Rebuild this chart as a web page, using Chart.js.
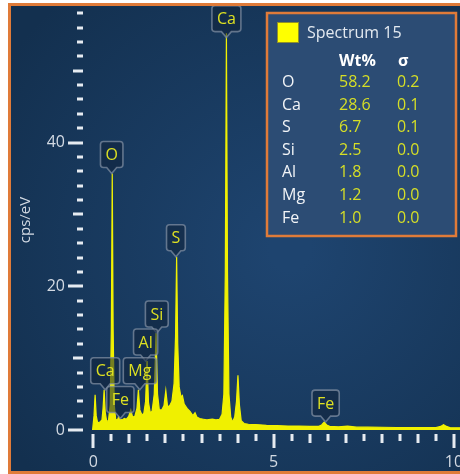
<!DOCTYPE html>
<html>
<head>
<meta charset="utf-8">
<script src="https://cdn.jsdelivr.net/npm/chart.js@4.4.1/dist/chart.umd.min.js"></script>
<style>
  html, body { margin: 0; padding: 0; background: #ffffff; }
  canvas { display: block; }
</style>
</head>
<body>
<canvas id="spectrum" width="460" height="474"></canvas>
<script>
// EDS spectrum: energy (keV) and intensity (cps/eV)
const energyKeV = [
  -0.02, 0.02, 0.05, 0.08, 0.12, 0.18, 0.24, 0.27, 0.30, 0.33, 0.37, 0.42,
  0.47, 0.50, 0.525, 0.55, 0.58, 0.62, 0.67, 0.70, 0.73, 0.80, 0.86, 0.92,
  0.98, 1.04, 1.09, 1.15, 1.21, 1.25, 1.29, 1.35, 1.40, 1.45, 1.49, 1.53,
  1.58, 1.63, 1.69, 1.74, 1.78, 1.83, 1.90, 1.96, 2.01, 2.06, 2.12, 2.18,
  2.24, 2.28, 2.31, 2.34, 2.38, 2.43, 2.47, 2.52, 2.60, 2.68, 2.76, 2.82,
  2.87, 2.95, 3.05, 3.15, 3.30, 3.40, 3.50, 3.57, 3.62, 3.66, 3.69, 3.72,
  3.76, 3.81, 3.86, 3.92, 3.97, 4.01, 4.05, 4.10, 4.18, 4.30, 4.50, 4.80,
  5.10, 5.40, 5.70, 6.00, 6.25, 6.33, 6.40, 6.47, 6.55, 6.80, 7.05, 7.30,
  7.60, 8.00, 8.40, 8.80, 9.20, 9.50, 9.63, 9.71, 9.79, 9.90, 10.20
];
const countsPerEV = [
  0.0, 2.0, 4.9, 2.0, 1.0, 1.1, 1.4, 3.0, 5.6, 2.5, 1.2, 1.3,
  3.5, 14.0, 35.7, 14.0, 3.5, 1.5, 1.4, 1.8, 1.5, 1.4, 1.6, 1.5,
  1.9, 2.8, 1.8, 1.9, 3.0, 5.6, 2.8, 2.1, 2.3, 4.0, 9.6, 3.8,
  2.4, 2.6, 5.0, 13.5, 5.0, 2.8, 2.8, 3.4, 5.5, 3.2, 3.4, 4.0,
  6.5, 13.0, 24.1, 12.0, 6.0, 4.6, 4.8, 3.6, 3.0, 2.6, 2.0, 2.4,
  1.8, 1.6, 1.5, 1.4, 1.5, 1.4, 1.5, 2.2, 5.0, 22.0, 55.2, 22.0,
  5.0, 1.8, 1.1, 1.8, 4.0, 7.6, 3.5, 1.3, 0.9, 0.8, 0.75, 0.65,
  0.6, 0.55, 0.55, 0.5, 0.5, 0.7, 1.1, 0.7, 0.5, 0.45, 0.55, 0.4,
  0.4, 0.38, 0.35, 0.33, 0.32, 0.32, 0.5, 0.75, 0.5, 0.3, 0.3
];

// Peak markers: element, energy (keV), intensity where the pointer lands
const peakNames    = ['Ca', 'O', 'S', 'Si', 'Al', 'Mg', 'Ca', 'Fe', 'Fe'];
const peakEnergies = [3.69, 0.51, 2.29, 1.76, 1.45, 1.29, 0.33, 0.75, 6.44];
const peakTips     = [54.6, 35.7, 24.1, 13.5, 9.6, 5.6, 5.6, 1.6, 1.1];

// Quantification table
const spectrumName  = 'Spectrum 15';
const tableHeaders  = ['Wt%', 'σ'];
const tableElements = ['O', 'Ca', 'S', 'Si', 'Al', 'Mg', 'Fe'];
const tableWt       = ['58.2', '28.6', '6.7', '2.5', '1.8', '1.2', '1.0'];
const tableSigma    = ['0.2', '0.1', '0.1', '0.0', '0.0', '0.0', '0.0'];

// Axes
const xTickLabels = [0, 5, 10];
const yTickLabels = [0, 20, 40];
const yAxisTitle  = 'cps/eV';

const FONT = '"Open Sans", "Noto Sans", sans-serif';
const ORANGE = '#e07b39';

const framePlugin = {
  id: 'frame',
  beforeDraw(chart) {
    const ctx = chart.ctx;
    ctx.save();
    ctx.fillStyle = '#ffffff';
    ctx.fillRect(0, 0, chart.width, chart.height);
    ctx.fillStyle = ORANGE;
    ctx.fillRect(8, 3, chart.width - 8, chart.height - 3);
    const g = ctx.createRadialGradient(290, 250, 20, 290, 250, 340);
    g.addColorStop(0, '#1e446f');
    g.addColorStop(1, '#13304f');
    ctx.fillStyle = g;
    ctx.fillRect(11, 6, chart.width - 11, chart.height - 9);
    ctx.restore();
  }
};

const axesPlugin = {
  id: 'axesDecor',
  afterDatasetsDraw(chart) {
    const ctx = chart.ctx;
    const xs = chart.scales.x, ys = chart.scales.y;
    const area = chart.chartArea;
    ctx.save();
    ctx.fillStyle = '#e6ebf1';
    // y ticks every 2 cps/eV
    for (let v = 0; v <= ys.max; v += 2) {
      const y = ys.getPixelForValue(v);
      const len = v % 20 === 0 ? 15 : (v % 10 === 0 ? 10 : 6);
      ctx.fillRect(area.left - 1 - len, Math.round(y) - 1.5, len, 3);
    }
    // x ticks every 0.5 keV
    for (let i = 0; i <= 20; i++) {
      const x = xs.getPixelForValue(i / 2);
      const len = i % 10 === 0 ? 14 : (i % 2 === 0 ? 9 : 7);
      ctx.fillRect(Math.round(x) - 1.5, area.bottom + 4, 3, len);
    }
    ctx.fillStyle = '#d3dae3';
    ctx.font = '16px ' + FONT;
    ctx.textAlign = 'right';
    ctx.textBaseline = 'middle';
    yTickLabels.forEach(v => ctx.fillText(String(v), area.left - 19, ys.getPixelForValue(v)));
    ctx.textAlign = 'center';
    xTickLabels.forEach(v => ctx.fillText(String(v), xs.getPixelForValue(v), area.bottom + 32));
    ctx.font = '15px ' + FONT;
    ctx.translate(26, (area.top + area.bottom) / 2 + 2);
    ctx.rotate(-Math.PI / 2);
    ctx.fillText(yAxisTitle, 0, 0);
    ctx.restore();

    // peak markers
    ctx.save();
    ctx.beginPath();
    ctx.rect(11, 6, chart.width - 11, chart.height - 9);
    ctx.clip();
    ctx.font = '16px ' + FONT;
    peakNames.forEach((name, i) => {
      const x = xs.getPixelForValue(peakEnergies[i]);
      const tip = ys.getPixelForValue(peakTips[i]);
      const w = ctx.measureText(name).width + 10;
      const h = 26, r = 3, pw = 5;
      const bottom = tip - 6, top = bottom - h;
      const l = x - w / 2, rt = x + w / 2;
      ctx.beginPath();
      ctx.moveTo(l + r, top);
      ctx.lineTo(rt - r, top);
      ctx.quadraticCurveTo(rt, top, rt, top + r);
      ctx.lineTo(rt, bottom - r);
      ctx.quadraticCurveTo(rt, bottom, rt - r, bottom);
      ctx.lineTo(x + pw, bottom);
      ctx.lineTo(x, tip);
      ctx.lineTo(x - pw, bottom);
      ctx.lineTo(l + r, bottom);
      ctx.quadraticCurveTo(l, bottom, l, bottom - r);
      ctx.lineTo(l, top + r);
      ctx.quadraticCurveTo(l, top, l + r, top);
      ctx.closePath();
      ctx.fillStyle = 'rgba(16, 34, 58, 0.55)';
      ctx.fill();
      ctx.lineWidth = 1.6;
      ctx.strokeStyle = 'rgba(125, 140, 160, 0.75)';
      ctx.stroke();
      ctx.fillStyle = '#dde022';
      ctx.textAlign = 'center';
      ctx.textBaseline = 'middle';
      ctx.fillText(name, x, top + h / 2 + 1);
    });
    ctx.restore();
  },
  afterDraw(chart) {
    const ctx = chart.ctx;
    ctx.save();
    // quantification panel
    ctx.fillStyle = '#2c4c74';
    ctx.fillRect(267, 13, 189, 223);
    ctx.strokeStyle = ORANGE;
    ctx.lineWidth = 2.5;
    ctx.strokeRect(267, 13, 189, 223);
    ctx.fillStyle = '#ffff00';
    ctx.fillRect(277, 22, 22, 21);
    ctx.strokeStyle = '#8f8f2a';
    ctx.lineWidth = 1;
    ctx.strokeRect(277.5, 22.5, 21, 20);
    ctx.textBaseline = 'middle';
    ctx.textAlign = 'left';
    ctx.font = '16px ' + FONT;
    ctx.fillStyle = '#e3e9f0';
    ctx.fillText(spectrumName, 307, 33);
    ctx.font = 'bold 16px ' + FONT;
    ctx.fillStyle = '#ffffff';
    ctx.fillText(tableHeaders[0], 339, 61);
    ctx.fillText(tableHeaders[1], 398, 61);
    ctx.font = '16px ' + FONT;
    tableElements.forEach((el, i) => {
      const y = 82.5 + i * 22.6;
      ctx.fillStyle = '#f2f4f7';
      ctx.fillText(el, 282, y);
      ctx.fillStyle = '#d6df26';
      ctx.fillText(tableWt[i], 339, y);
      ctx.fillText(tableSigma[i], 397, y);
    });
    ctx.restore();
  }
};

new Chart(document.getElementById('spectrum'), {
  type: 'line',
  data: {
    datasets: [{
      label: spectrumName,
      data: energyKeV.map((e, i) => ({ x: e, y: countsPerEV[i] })),
      borderColor: '#f2f200',
      backgroundColor: '#f0f000',
      borderWidth: 1.2,
      fill: 'origin',
      pointRadius: 0,
      tension: 0
    }]
  },
  options: {
    responsive: false,
    animation: false,
    devicePixelRatio: 1,
    layout: { padding: { left: 84, right: 0, top: 6, bottom: 44 } },
    plugins: { legend: { display: false }, tooltip: { enabled: false } },
    scales: {
      x: { type: 'linear', min: -0.258, max: 10.166, display: false },
      y: { type: 'linear', min: 0, max: 59, display: false }
    }
  },
  plugins: [framePlugin, axesPlugin]
});
</script>
</body>
</html>
